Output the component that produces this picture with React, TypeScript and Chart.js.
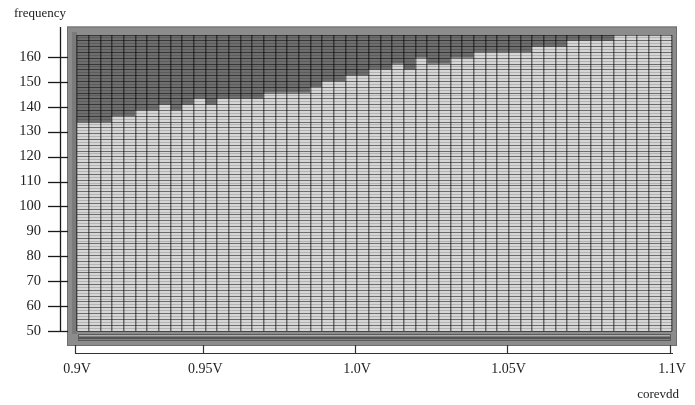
import React, { useEffect, useRef } from "react";
import { Chart, registerables } from "chart.js";

Chart.register(...registerables);

// ---- data ----
const voltageTickLabels = ["0.9V", "0.95V", "1.0V", "1.05V", "1.1V"];
const voltageTickColumns = [0, 11, 24, 37, 51];
const columnCount = 51;
const rowCount = 51;
const freqMin = 50;
const freqMax = 168.8;
const freqTicks = [50, 60, 70, 80, 90, 100, 110, 120, 130, 140, 150, 160];
// highest passing frequency (MHz) for each corevdd column
const passMaxFreq = [
  133.8, 133.8, 133.8, 136.2, 136.2, 138.5, 138.5, 140.8, 138.5, 140.8,
  143.2, 140.8, 143.2, 143.2, 143.2, 143.2, 145.5, 145.5, 145.5, 145.5,
  147.8, 150.1, 150.1, 152.5, 152.5, 154.8, 154.8, 157.1, 154.8, 159.5,
  157.1, 157.1, 159.5, 159.5, 161.8, 161.8, 161.8, 161.8, 161.8, 164.1,
  164.1, 164.1, 166.5, 166.5, 166.5, 166.5, 168.8, 168.8, 168.8, 168.8,
  168.8,
];
const yTitle = "frequency";
const xTitle = "corevdd";

const FONT = "'Liberation Serif', 'Times New Roman', serif";

const framePlugin = {
  id: "shmooFrame",
  beforeDraw(chart: any) {
    const { ctx, chartArea: ca } = chart;
    ctx.save();
    ctx.fillStyle = "#8c8c8c";
    ctx.fillRect(ca.left - 10, ca.top - 8.5, ca.right - ca.left + 15, ca.bottom - ca.top + 23.5);
    ctx.fillStyle = "#7a7a7a";
    ctx.fillRect(ca.left - 5, ca.top - 3, 5, ca.bottom - ca.top + 6);
    ctx.strokeStyle = "#6e6e6e";
    ctx.lineWidth = 1;
    ctx.strokeRect(ca.left - 9.5, ca.top - 8, ca.right - ca.left + 14, ca.bottom - ca.top + 22.5);
    // bottom scroll bar
    ctx.fillStyle = "#b0b0b0";
    ctx.fillRect(ca.left + 1, ca.bottom + 3, ca.right - ca.left - 2, 7);
    ctx.fillStyle = "#555";
    ctx.fillRect(ca.left + 2, ca.bottom + 5.5, ca.right - ca.left - 4, 3);
    ctx.strokeStyle = "#5a5a5a";
    ctx.strokeRect(ca.left + 1.5, ca.bottom + 3.5, ca.right - ca.left - 3, 6);
    ctx.restore();
  },
  afterDraw(chart: any) {
    const { ctx, chartArea: ca } = chart;
    const xs = chart.scales.x;
    const ys = chart.scales.y;
    ctx.save();
    ctx.strokeStyle = "#1a1a1a";
    ctx.lineWidth = 1.3;
    // y axis line
    const ax = 60.5;
    ctx.beginPath();
    ctx.moveTo(ax, 27);
    ctx.lineTo(ax, ca.bottom);
    ctx.stroke();
    freqTicks.forEach((v) => {
      const y = Math.round(ys.getPixelForValue(v)) + 0.5;
      ctx.beginPath();
      ctx.moveTo(48, y);
      ctx.lineTo(68, y);
      ctx.stroke();
    });
    // x axis line
    const ay = 353.5;
    ctx.strokeStyle = "#333";
    ctx.lineWidth = 1.2;
    ctx.beginPath();
    ctx.moveTo(xs.getPixelForValue(0) - 2, ay);
    ctx.lineTo(xs.getPixelForValue(columnCount) + 1, ay);
    ctx.stroke();
    voltageTickColumns.forEach((c) => {
      const x = Math.round(xs.getPixelForValue(c)) - 1.5;
      ctx.beginPath();
      ctx.moveTo(x, 345);
      ctx.lineTo(x, ay);
      ctx.stroke();
    });
    // titles
    ctx.fillStyle = "#222";
    ctx.font = "13px " + FONT;
    ctx.textBaseline = "middle";
    ctx.textAlign = "left";
    ctx.fillText(yTitle, 14, 14);
    ctx.textAlign = "right";
    ctx.fillText(xTitle, 679, 395);
    ctx.restore();
  },
};

export default function App() {
  const ref = useRef<HTMLCanvasElement | null>(null);

  useEffect(() => {
    if (!ref.current) return;
    const rowStep = (freqMax - freqMin) / rowCount;
    const halfRowBounds: number[] = [];
    for (let k = 0; k <= rowCount * 2; k++) halfRowBounds.push(freqMin + (k * rowStep) / 2);
    const colBounds: number[] = [];
    for (let c = 0; c <= columnCount; c++) colBounds.push(c);

    const chart = new Chart(ref.current, {
      type: "bar",
      data: {
        datasets: [
          {
            label: "pass",
            data: passMaxFreq.map((f, i) => ({ x: i + 0.5, y: [freqMin, f] })) as any,
            backgroundColor: "#d6d6d6",
          },
          {
            label: "fail",
            data: passMaxFreq.map((f, i) => ({ x: i + 0.5, y: [f, freqMax] })) as any,
            backgroundColor: "#6e6e6e",
          },
        ],
      },
      options: {
        responsive: false,
        animation: false,
        layout: { padding: { top: 35, right: 23, left: 0, bottom: 0 } },
        plugins: { legend: { display: false }, tooltip: { enabled: false } },
        datasets: {
          bar: {
            grouped: false,
            barPercentage: 1,
            categoryPercentage: 1,
            borderWidth: 0,
          },
        },
        scales: {
          x: {
            type: "linear",
            min: 0,
            max: columnCount,
            offset: false,
            afterBuildTicks: (s: any) => {
              s.ticks = colBounds.map((v) => ({ value: v }));
            },
            afterFit: (s: any) => {
              s.height = 74;
              s.paddingLeft = 0;
              s.paddingRight = 0;
            },
            grid: { z: 1, offset: false, color: "rgba(0,0,0,0.5)", lineWidth: 1.5, drawTicks: false },
            border: { display: false },
            ticks: {
              autoSkip: false,
              maxRotation: 0,
              padding: 30,
              color: "#222",
              font: { family: FONT, size: 14 },
              callback: (v: any) => {
                const idx = voltageTickColumns.indexOf(Number(v));
                return idx >= 0 ? voltageTickLabels[idx] : "";
              },
            },
          },
          y: {
            type: "linear",
            min: freqMin,
            max: freqMax,
            afterBuildTicks: (s: any) => {
              s.ticks = freqTicks.map((v) => ({ value: v }));
            },
            afterFit: (s: any) => {
              s.width = 77;
              s.paddingTop = 0;
              s.paddingBottom = 0;
            },
            grid: { display: false, drawTicks: false },
            border: { display: false },
            ticks: {
              padding: 36,
              color: "#222",
              font: { family: FONT, size: 14.5 },
            },
          },
          yGrid: {
            type: "linear",
            position: "right",
            min: freqMin,
            max: freqMax,
            afterBuildTicks: (s: any) => {
              s.ticks = halfRowBounds.map((v) => ({ value: v }));
            },
            afterFit: (s: any) => {
              s.width = 0;
              s.paddingTop = 0;
              s.paddingBottom = 0;
            },
            grid: {
              z: 1,
              drawTicks: false,
              color: (c: any) => (c.index % 2 === 0 ? "rgba(0,0,0,0.5)" : "rgba(0,0,0,0.16)"),
              lineWidth: 1,
            },
            border: { display: false },
            ticks: { display: false },
          },
        },
      } as any,
      plugins: [framePlugin],
    });
    return () => chart.destroy();
  }, []);

  return (
    <div style={{ position: "fixed", left: 0, top: 0, width: 695, height: 405, background: "#fff" }}>
      <canvas ref={ref} width={695} height={405} />
    </div>
  );
}
